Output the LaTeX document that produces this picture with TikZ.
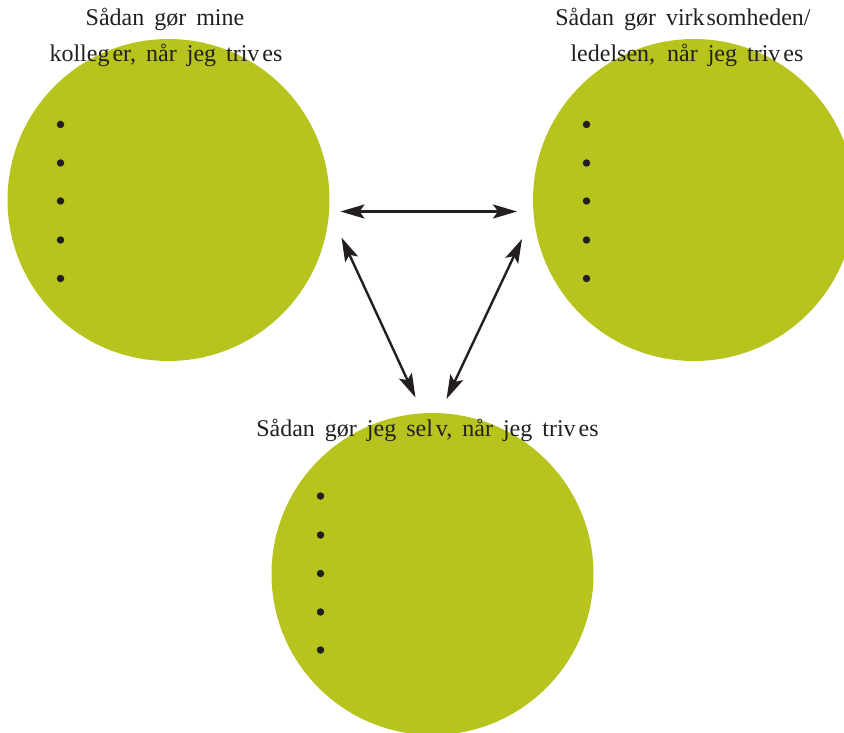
\documentclass[tikz,border=0pt]{standalone}
\usepackage{fontspec}
\setmainfont{Liberation Serif}
\usetikzlibrary{arrows.meta}
\definecolor{lime}{HTML}{B8C41E}
\definecolor{ink}{HTML}{231F20}
\newcommand\capfont{\fontsize{24}{28}\selectfont\spaceskip=10pt\relax}
\tikzset{
  blob/.style={circle, fill=lime, draw=none, minimum size=322pt, inner sep=0pt},
  dotmark/.style={circle, fill=ink, draw=none, minimum size=7.5pt, inner sep=0pt},
  caption/.style={anchor=base, text=ink, inner sep=0pt, font=\capfont},
  link/.style={draw=ink, line width=2.4pt,
    {Stealth[length=24pt, width=14pt, inset=5pt]}-{Stealth[length=24pt, width=14pt, inset=5pt]}}
}
\begin{document}
\begin{tikzpicture}[x=1pt,y=-1pt]
\useasboundingbox (0,0) rectangle (844,733);
\clip (0,0) rectangle (844,733);
% circles
\node[blob] (colleagues) at (168.5,200) {};
\node[blob] (company) at (694,200) {};
\node[blob] (self) at (432.5,574) {};
% bullets
\foreach \y [count=\i] in {124.5,163,201,240,278.5}{
  \node[dotmark] (cb\i) at (60.5,\y) {};
  \node[dotmark] (rb\i) at (586.5,\y) {};
}
\foreach \y [count=\i] in {496,535,573.5,612,650}{
  \node[dotmark] (sb\i) at (320.5,\y) {};
}
% captions
\node[caption] (t1a) at (165,26) {Sådan gør mine};
\node[caption] (t1b) at (166,61.5) {kolleg\kern3pt er, når jeg triv\kern3pt es};
\node[caption] (t2a) at (683,26) {Sådan gør virk\kern2pt somheden/};
\node[caption] (t2b) at (687,61.5) {ledelsen,\kern12pt når jeg triv\kern3pt es};
\node[caption] (t3) at (427.5,436) {Sådan gør jeg sel\kern3pt v, når jeg triv\kern3pt es};
% arrow end points
\coordinate (hL) at (340.5,211.5);
\coordinate (hR) at (517,211.5);
\coordinate (lU) at (341.5,237.5);
\coordinate (lD) at (415.5,397.5);
\coordinate (rU) at (522,239);
\coordinate (rD) at (446.5,399);
\draw[link] (hL) -- (hR);
\draw[link] (lU) -- (lD);
\draw[link] (rU) -- (rD);
\end{tikzpicture}
\end{document}
